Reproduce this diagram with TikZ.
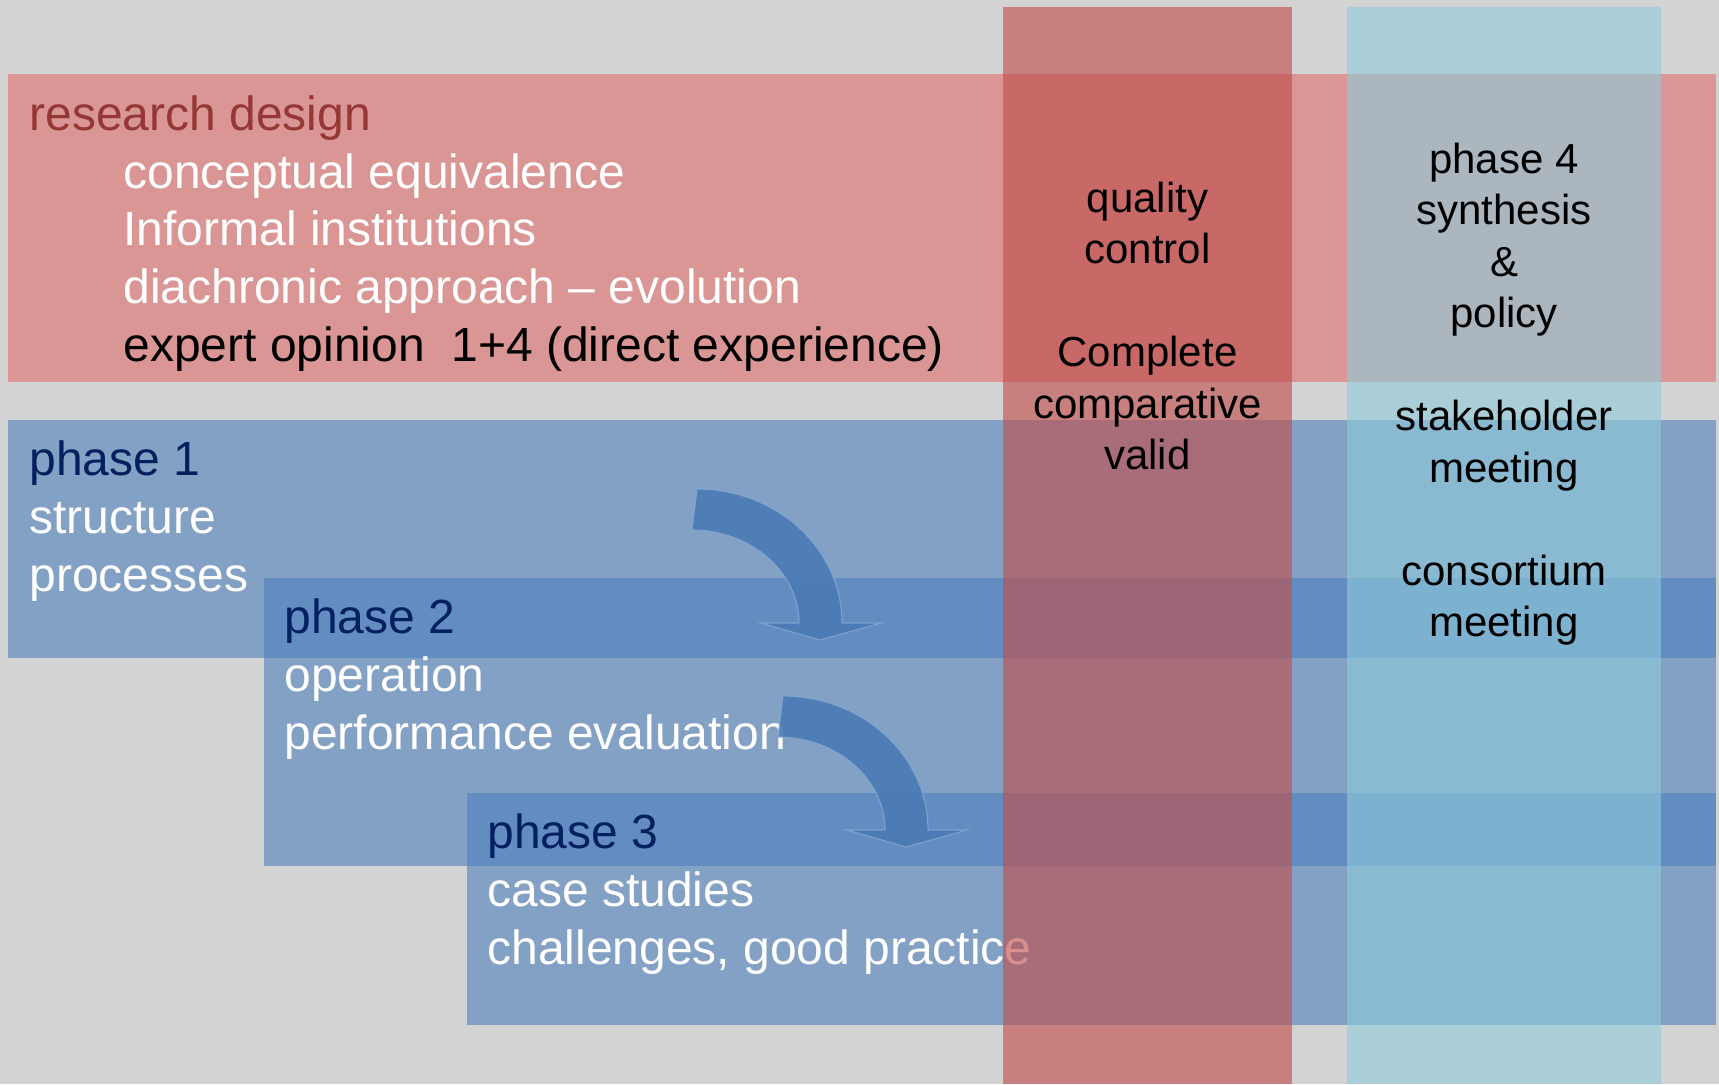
\documentclass[tikz,border=0pt]{standalone}
\usepackage{fontspec}
\setmainfont{Liberation Sans}
\definecolor{bggray}{RGB}{211,211,211}
\definecolor{bandred}{RGB}{217,150,148}
\definecolor{accblue}{RGB}{79,129,189}
\definecolor{accred}{RGB}{192,80,77}
\definecolor{acccyan}{RGB}{141,204,219}
\definecolor{darkred}{RGB}{149,55,53}
\definecolor{navy}{RGB}{0,32,96}
\definecolor{arrowblue}{RGB}{74,122,180}
\tikzset{
  bandtext/.style={anchor=base west, align=left, inner sep=0pt, text=white, font=\fontsize{24}{28.8}\selectfont},
  coltext/.style={anchor=base, align=center, inner sep=0pt, text=black, font=\fontsize{21}{25.75}\selectfont},
  phaseband/.style={fill=accblue, fill opacity=0.6},
  bentarrow/.style={fill=arrowblue, draw=accblue!70!white, line width=0.6pt, fill opacity=0.9, draw opacity=0.8}
}
\begin{document}
\begin{tikzpicture}[x=0.5pt, y=-0.5pt]
  \useasboundingbox (0,0) rectangle (1719,1084);
  \fill[bggray] (0,0) rectangle (1719,1084);
  % research design (text nodes sit on the baseline of their last line)
  \fill[bandred] (8,74) rectangle (1716,382);
  \node[bandtext, text=darkred] (design) at (29,130) {research design};
  \node[bandtext] (designitems) at (123,361) {conceptual equivalence\\Informal institutions\\diachronic approach – evolution\\\textcolor{black}{expert opinion~~1+4 (direct experience)}};
  % phases 1-3
  \fill[phaseband] (8,420) rectangle (1716,658);
  \node[bandtext] (phaseone) at (29,591) {\textcolor{navy}{phase 1}\\structure\\processes};
  \fill[phaseband] (264,578) rectangle (1716,866);
  \node[bandtext] (phasetwo) at (284,749) {\textcolor{navy}{phase 2}\\operation\\performance evaluation};
  \fill[phaseband] (467,793) rectangle (1716,1025);
  \node[bandtext] (phasethree) at (487,964) {\textcolor{navy}{phase 3}\\case studies\\challenges, good practice};
  % bent arrows
  \foreach \dx/\dy in {0/0, 86/207}
    \draw[bentarrow, shift={(\dx,\dy)}] (697,489) .. controls (777,489) and (842,549) .. (842,623)
      -- (881,623) -- (820,640) -- (761,623) -- (799,623)
      .. controls (799,572) and (751,530) .. (692,530) -- cycle;
  % columns
  \fill[accred, fill opacity=0.63] (1003,7) rectangle (1292,1084);
  \fill[acccyan, fill opacity=0.6] (1347,7) rectangle (1661,1084);
  \node[coltext] (quality) at (1147.5,469.5) {quality\\control\\ \\Complete\\comparative\\valid};
  \node[coltext] (synthesis) at (1504,636.5) {phase 4\\synthesis\\\&\\policy\\ \\stakeholder\\meeting\\ \\consortium\\meeting};
\end{tikzpicture}
\end{document}
